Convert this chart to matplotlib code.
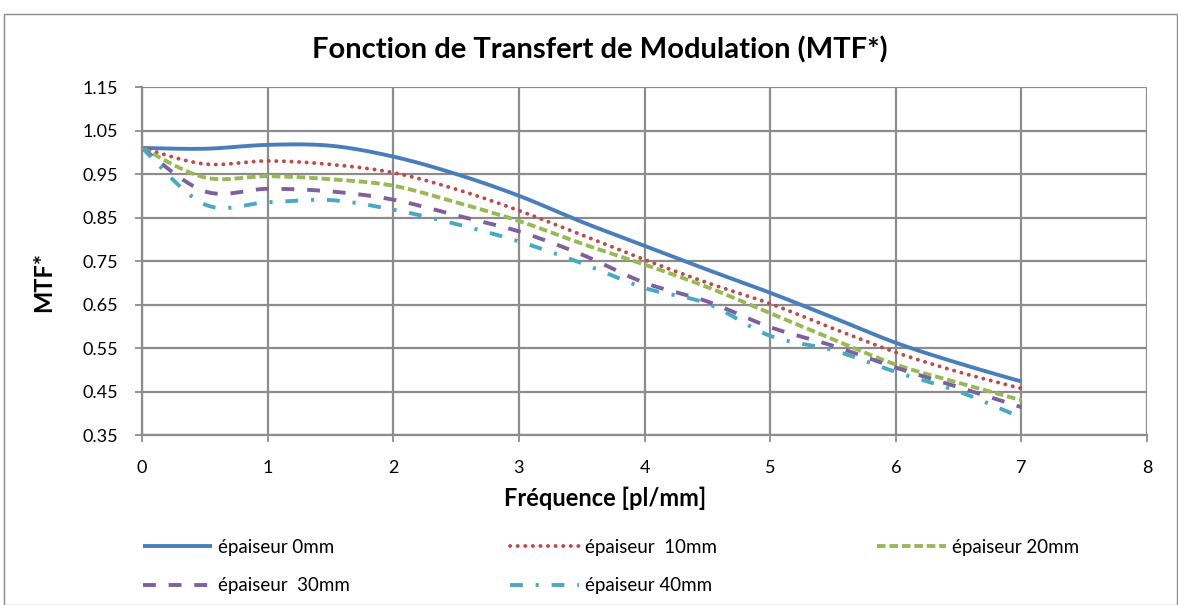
import numpy as np
import matplotlib
matplotlib.use("Agg")
import matplotlib.pyplot as plt
from matplotlib.patches import Rectangle

plt.rcParams['font.family'] = ['Lato', 'DejaVu Sans']

freq = [0, 0.5, 1, 1.5, 2, 2.5, 3, 3.5, 4, 4.5, 5, 5.5, 6, 6.5, 7]
mtf_0 = [1.01, 1.008, 1.017, 1.015, 0.99, 0.95, 0.90, 0.84, 0.785, 0.73, 0.677, 0.62, 0.562, 0.515, 0.473]
mtf_10 = [1.01, 0.973, 0.98, 0.972, 0.953, 0.915, 0.866, 0.81, 0.753, 0.70, 0.652, 0.595, 0.54, 0.495, 0.457]
mtf_20 = [1.01, 0.942, 0.945, 0.938, 0.923, 0.885, 0.842, 0.79, 0.742, 0.69, 0.63, 0.57, 0.512, 0.47, 0.43]
mtf_30 = [1.01, 0.91, 0.916, 0.91, 0.891, 0.855, 0.818, 0.765, 0.70, 0.657, 0.598, 0.555, 0.505, 0.46, 0.414]
mtf_40 = [1.01, 0.88, 0.885, 0.89, 0.868, 0.835, 0.795, 0.745, 0.688, 0.652, 0.578, 0.545, 0.495, 0.45, 0.39]
labels = ['épaiseur 0mm', 'épaiseur  10mm', 'épaiseur 20mm', 'épaiseur  30mm', 'épaiseur 40mm']
colors = ['#4a7ebb', '#be4b48', '#98b954', '#7d60a0', '#46aac5']
styles = ['-', (0, (0.05, 1.9)), (0, (2.2, 1.0)), (0, (3.3, 3.3)), (0, (3.3, 3.3, 0.8, 3.3))]
caps = ['butt', 'round', 'butt', 'butt', 'butt']


def smooth(x, y, n=30):
    x = np.asarray(x, float); y = np.asarray(y, float)
    P = np.column_stack([x, y])
    out = []
    for i in range(len(P) - 1):
        p0 = P[i - 1] if i > 0 else P[i]
        p1 = P[i]; p2 = P[i + 1]
        p3 = P[i + 2] if i + 2 < len(P) else P[i + 1]
        c1 = p1 + (p2 - p0) / 6.0
        c2 = p2 - (p3 - p1) / 6.0
        t = np.linspace(0, 1, n, endpoint=(i == len(P) - 2))[:, None]
        seg = (1 - t) ** 3 * p1 + 3 * (1 - t) ** 2 * t * c1 + 3 * (1 - t) * t ** 2 * c2 + t ** 3 * p2
        out.append(seg)
    s = np.vstack(out)
    return s[:, 0], s[:, 1]


fig = plt.figure(figsize=(11.78, 6.05), dpi=100)
fig.patches.append(Rectangle((4 / 1178, 0), 1 - 4 / 1178 - 0.0005, 1 - 14 / 605, transform=fig.transFigure,
                             fill=False, edgecolor='#8c8c8c', linewidth=1.0))
ax = fig.add_axes([142 / 1178, 1 - 435 / 605, (1147 - 142) / 1178, (435 - 87) / 605])

lines = []
for ys, c, ls, cap, lab in zip([mtf_0, mtf_10, mtf_20, mtf_30, mtf_40], colors, styles, caps, labels):
    xs, yy = smooth(freq, ys)
    ln, = ax.plot(xs, yy, color=c, linestyle=ls, linewidth=2.8, label=lab, dash_capstyle=cap,
                  solid_capstyle='butt')
    lines.append(ln)

ax.set_xlim(0, 8)
ax.set_ylim(0.35, 1.15)
ax.set_xticks(range(0, 9))
ax.set_yticks(np.arange(0.35, 1.151, 0.1))
ax.set_yticklabels([f'{v:.2f}' for v in np.arange(0.35, 1.151, 0.1)])
ax.grid(True, color='#8c8c8c', linewidth=1.6)
ax.set_axisbelow(True)
for s in ['top', 'right']:
    ax.spines[s].set_visible(False)
for s in ['left', 'bottom']:
    ax.spines[s].set_color('#8c8c8c')
    ax.spines[s].set_linewidth(1.6)
ax.tick_params(axis='both', colors='#8c8c8c', labelcolor='black', labelsize=13, length=5, width=1.3)
ax.tick_params(axis='x', pad=13)
ax.tick_params(axis='y', pad=12)

ax.set_xlabel('Fréquence [pl/mm]', fontsize=17, fontweight='bold')
ax.xaxis.set_label_coords(0.461, -0.148)
ax.set_ylabel('MTF*', fontsize=17, fontweight='bold')
ax.yaxis.set_label_coords(-0.086, 0.44)
fig.text(600 / 1178, 1 - 50 / 605, 'Fonction de Transfert de Modulation (MTF*)', ha='center', va='center',
         fontsize=21, fontweight='bold')

pos = [(143, 547), (510, 547), (877, 547), (143, 586), (510, 586)]
for ln, (px, py) in zip(lines, pos):
    fig.legend(handles=[ln], loc='center left', bbox_to_anchor=(px / 1178, 1 - py / 605),
               frameon=False, handlelength=3.7, handletextpad=0.3, fontsize=13.5,
               borderaxespad=0, borderpad=0)

fig.savefig('out.png', dpi=100)
